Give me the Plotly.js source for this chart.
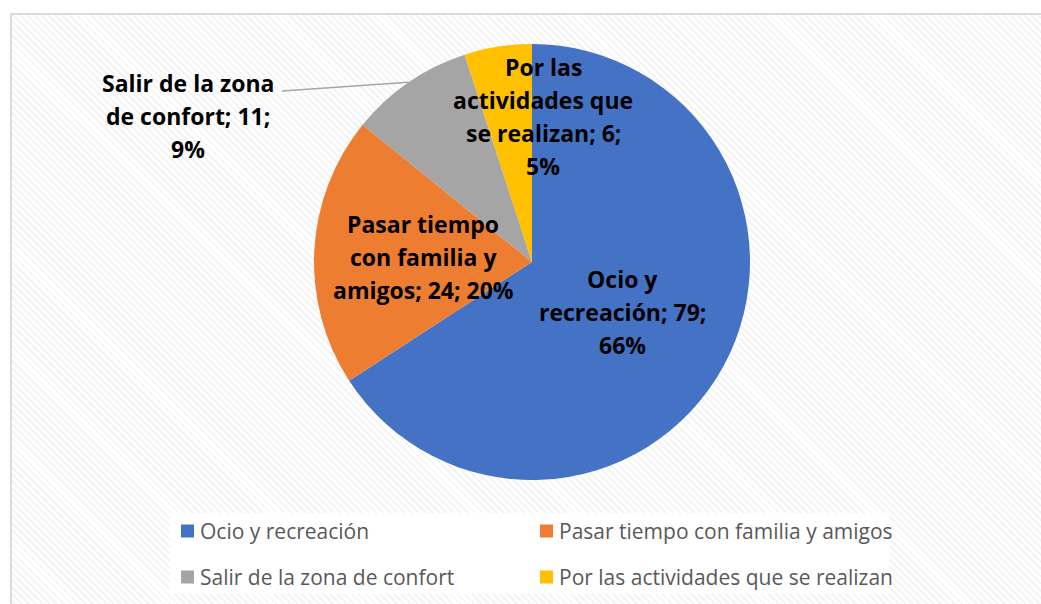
<!DOCTYPE html>
<html>
<head>
<meta charset="utf-8">
<script src="https://cdn.plot.ly/plotly-3.0.1.min.js"></script>
<style>
  html, body { margin: 0; padding: 0; background: #ffffff; }
  #wrap { position: relative; width: 1041px; height: 604px; overflow: hidden; background: #ffffff; }
  #frame { position: absolute; left: 10px; top: 13px; width: 1060px; height: 620px;
    border: 2px solid #dcdcdc;
    background: repeating-linear-gradient(45deg, #ffffff 0px, #ffffff 3px, #f4f4f4 3px, #f4f4f4 5px); }
  #chart { position: absolute; left: 0; top: 0; width: 1041px; height: 604px; }
</style>
</head>
<body>
<div id="wrap">
  <div id="frame"></div>
  <div id="chart"></div>
</div>
<script>
// ---- data ----
const categories = ["Ocio y recreación", "Pasar tiempo con familia y amigos", "Salir de la zona de confort", "Por las actividades que se realizan"];
const values = [79, 24, 11, 6];
const percents = [66, 20, 9, 5];
const colors = ["#4472C4", "#ED7D31", "#A5A5A5", "#FFC000"];

// ---- style / layout constants ----
const W = 1041, H = 604;
const cx = 532, cy = 262, R = 218;
// words per wrapped line of each data label
const wrapCounts = [[2, 2, 1], [2, 3, 3], [4, 3, 1], [2, 2, 3, 1]];
// label block centres in pixels (first line centre)
const labelPos = [[622, 279], [423, 224], [188, 83], [543, 67]];
const lineGap = 33;
// legend grid (pixels)
const legCols = [181, 540], legRows = [531, 577], legBox = 13, legTextGap = 17;

const px = x => x / W;
const py = y => 1 - y / H;

const trace = {
  type: "pie",
  labels: categories,
  values: values,
  sort: false,
  direction: "clockwise",
  rotation: 0,
  marker: { colors: colors, line: { width: 0 } },
  textinfo: "none",
  hoverinfo: "label+value+percent",
  showlegend: false,
  domain: { x: [px(cx - R), px(cx + R)], y: [py(cy + R), py(cy - R)] }
};

const annotations = [];
categories.forEach((c, i) => {
  const words = (c + "; " + values[i] + "; " + percents[i] + "%").split(" ");
  let k = 0;
  wrapCounts[i].forEach((n, li) => {
    const line = words.slice(k, k + n).join(" ");
    k += n;
    annotations.push({
      text: "<b>" + line + "</b>", showarrow: false,
      xref: "paper", yref: "paper",
      x: px(labelPos[i][0]), y: py(labelPos[i][1] + li * lineGap),
      xanchor: "center", yanchor: "middle",
      font: { family: "'Open Sans', sans-serif", size: 23, color: "#000000" }
    });
  });
});

// leader line for the outside label (slice index 2) to the pie edge at slice mid-angle
const total = values.reduce((a, b) => a + b, 0);
let cum = 0;
const mids = values.map(v => { const m = (cum + v / 2) / total; cum += v; return m * 2 * Math.PI; });
const ex = cx + R * Math.sin(mids[2]);
const ey = cy - R * Math.cos(mids[2]);
const shapes = [
  // legend background
  { type: "rect", xref: "paper", yref: "paper", layer: "below",
    x0: px(170), x1: px(890), y0: py(594), y1: py(513),
    fillcolor: "#ffffff", line: { width: 0 } },
  { type: "line", xref: "paper", yref: "paper",
    x0: px(282), y0: py(91), x1: px(ex), y1: py(ey),
    line: { color: "#A6A6A6", width: 1.5 } }
];

// legend (2 x 2 grid) built from the categories and colours
categories.forEach((c, i) => {
  const lx = legCols[i % 2], ly = legRows[Math.floor(i / 2)];
  shapes.push({ type: "rect", xref: "paper", yref: "paper",
    x0: px(lx), x1: px(lx + legBox), y0: py(ly + legBox / 2), y1: py(ly - legBox / 2),
    fillcolor: colors[i], line: { width: 0 } });
  annotations.push({ text: c, showarrow: false, xref: "paper", yref: "paper",
    x: px(lx + legTextGap), y: py(ly), xanchor: "left", yanchor: "middle",
    font: { family: "'Open Sans', sans-serif", size: 21, color: "#595959" } });
});

const layout = {
  width: W, height: H,
  margin: { l: 0, r: 0, t: 0, b: 0 },
  paper_bgcolor: "rgba(0,0,0,0)",
  plot_bgcolor: "rgba(0,0,0,0)",
  showlegend: false,
  annotations: annotations,
  shapes: shapes
};

Plotly.newPlot("chart", [trace], layout, { displayModeBar: false, staticPlot: true });
</script>
</body>
</html>
